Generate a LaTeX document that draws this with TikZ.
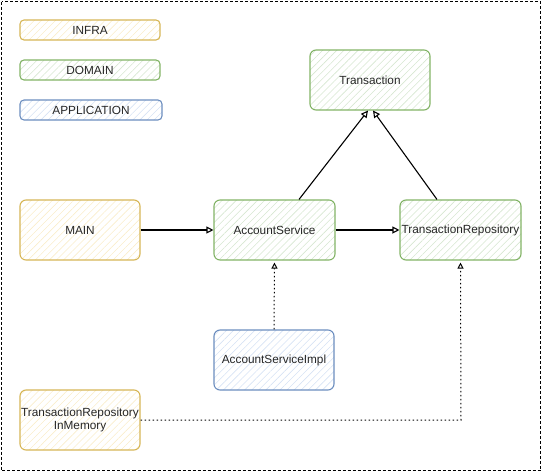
\documentclass[tikz,border=0pt]{standalone}
\usepackage{fontspec}
\setmainfont{Liberation Sans}
\usetikzlibrary{arrows.meta,patterns.meta}
\definecolor{yfill}{HTML}{FFF2CC}\definecolor{ystroke}{HTML}{D6B656}
\definecolor{gfill}{HTML}{D5E8D4}\definecolor{gstroke}{HTML}{82B366}
\definecolor{bfill}{HTML}{DAE8FC}\definecolor{bstroke}{HTML}{6C8EBF}
\tikzset{
  x=1pt,y=-1pt,
  box/.style={rounded corners=6pt, line width=1.1pt, minimum width=120pt, minimum height=60pt,
    inner sep=0pt, align=center, font=\fontsize{11.8}{13.5}\selectfont, text=black!85},
  legendbox/.style={box, minimum height=20pt, minimum width=140pt, rounded corners=4pt},
  infrabox/.style={draw=ystroke, pattern={Lines[angle=45,distance=5pt,line width=0.6pt]}, pattern color=yfill!80!ystroke!70},
  domainbox/.style={draw=gstroke, pattern={Lines[angle=45,distance=5pt,line width=0.6pt]}, pattern color=gfill!80!gstroke!70},
  appbox/.style={draw=bstroke, pattern={Lines[angle=45,distance=5pt,line width=0.6pt]}, pattern color=bfill!80!bstroke!70},
  conn/.style={line width=1.1pt, -{Triangle[open,length=7pt,width=7pt]}},
  dep/.style={line width=1pt, dash pattern=on 1.5pt off 2.5pt, -{Triangle[open,length=6pt,width=6pt]}},
}
\begin{document}
\begin{tikzpicture}
\useasboundingbox (0,0) rectangle (542,472);
\draw[line width=0.8pt, dash pattern=on 3pt off 2pt] (1.5,1.5) rectangle (540.5,470.5);
% legend
\node[legendbox, infrabox] (linfra) at (90,30) {INFRA};
\node[legendbox, domainbox] (ldomain) at (90,70) {DOMAIN};
\node[legendbox, appbox, minimum width=142pt] (lapp) at (91,110) {APPLICATION};
% nodes
\node[box, domainbox] (tr) at (370,80) {Transaction};
\node[box, infrabox] (main) at (80,230) {MAIN};
\node[box, domainbox, minimum width=121pt] (as) at (274.5,230) {AccountService};
\node[box, domainbox, minimum width=121pt] (trepo) at (460.5,230) {TransactionRepository};
\node[box, appbox] (asi) at (274,360) {AccountServiceImpl};
\node[box, infrabox] (trim) at (80,420) {TransactionRepository\\InMemory};
% connectors
\draw[conn] (main.east) -- (as.west);
\draw[conn] (as.east) -- (trepo.west);
\draw[conn] (as.north -| 299,0) -- (tr.south -| 368,0);
\draw[conn] (trepo.north -| 437,0) -- (tr.south -| 373,0);
\draw[dep] (asi.north) -- ([yshift=-2pt]as.south);
\coordinate (corner) at (461,420);
\draw[dep] (trim.east) -- (corner) -- ([yshift=-2pt]trepo.south);
\end{tikzpicture}
\end{document}
